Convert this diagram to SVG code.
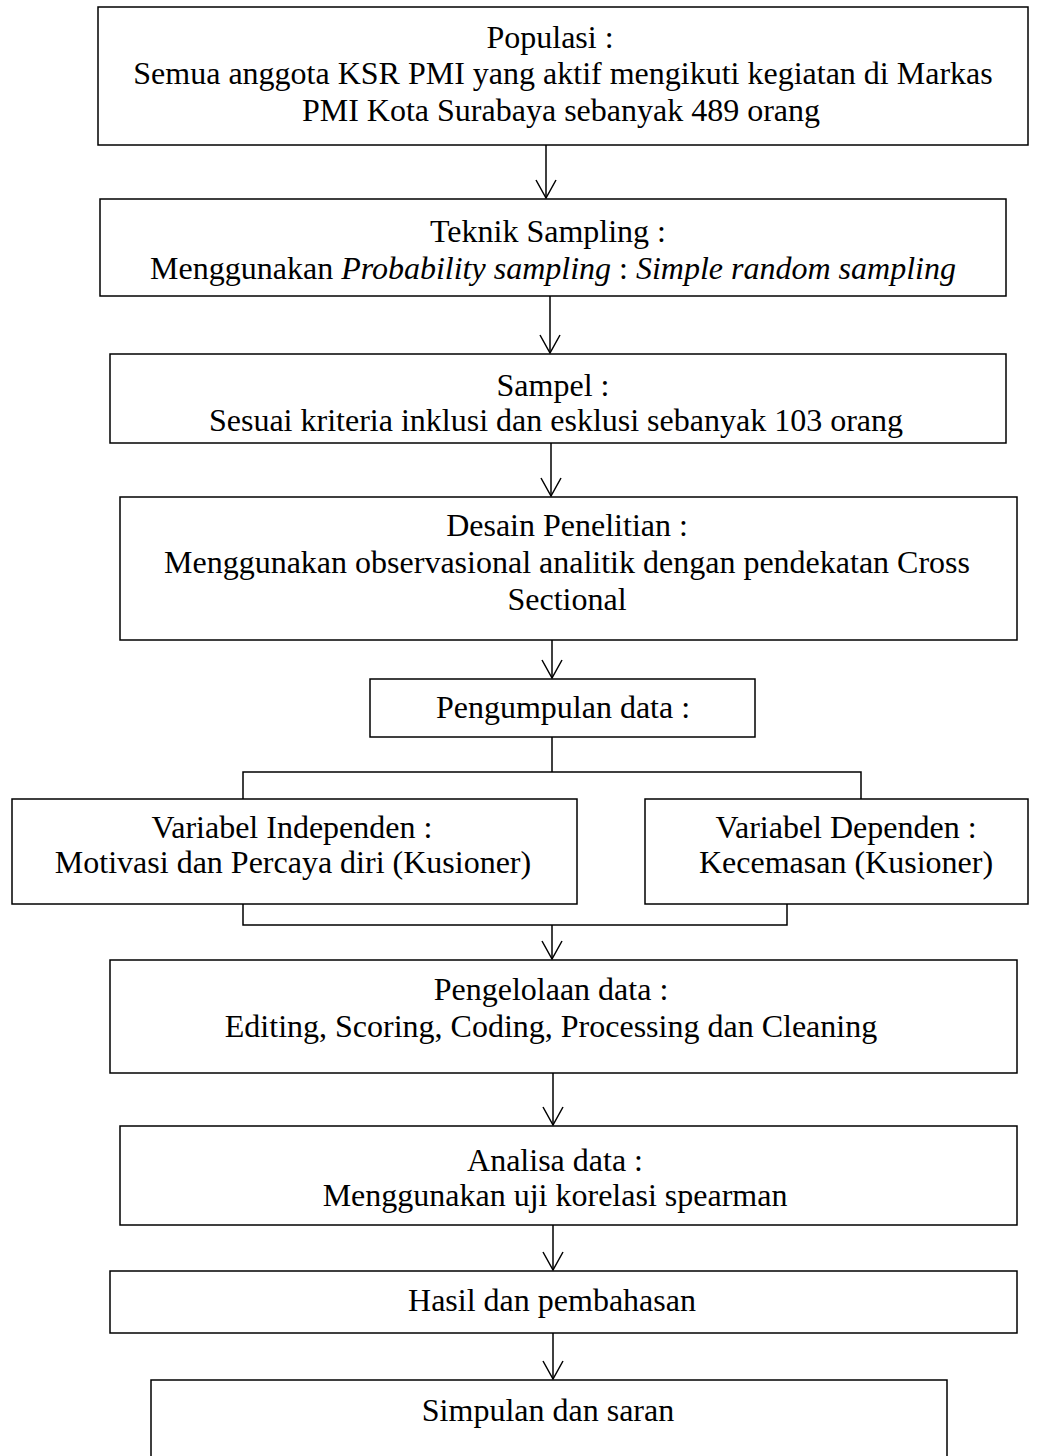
<svg xmlns="http://www.w3.org/2000/svg" width="1042" height="1456" viewBox="0 0 1042 1456">
<defs>
<style>
rect.box{fill:#fff;stroke:#000;stroke-width:1.5}
text{font-family:"Liberation Serif","Times New Roman",serif;font-size:32px;fill:#000;text-anchor:middle}
.conn line,.conn polyline{stroke:#000;stroke-width:1.5;fill:none}
</style>
<marker id="ah" markerWidth="24" markerHeight="24" viewBox="-20 -12 24 24" refX="0" refY="0" orient="auto" markerUnits="userSpaceOnUse">
<polyline points="-18,-10 0,0 -18,10" fill="none" stroke="#000" stroke-width="1.5"/>
</marker>
</defs>
<rect width="1042" height="1456" fill="#fff"/>
<g class="conn">
<line x1="546" y1="145" x2="546" y2="198" marker-end="url(#ah)"/>
<line x1="550" y1="296" x2="550" y2="353" marker-end="url(#ah)"/>
<line x1="551" y1="443" x2="551" y2="496" marker-end="url(#ah)"/>
<line x1="552" y1="640" x2="552" y2="678" marker-end="url(#ah)"/>
<line x1="552" y1="737" x2="552" y2="772"/>
<polyline points="243,799 243,772 861,772 861,799"/>
<polyline points="243,904 243,925 787,925 787,904"/>
<line x1="552" y1="925" x2="552" y2="959" marker-end="url(#ah)"/>
<line x1="553" y1="1073" x2="553" y2="1125" marker-end="url(#ah)"/>
<line x1="553" y1="1225" x2="553" y2="1270" marker-end="url(#ah)"/>
<line x1="553" y1="1333" x2="553" y2="1379" marker-end="url(#ah)"/>
</g>
<g id="n1"><rect class="box" x="98" y="7" width="930" height="138"/>
<text x="550" y="48">Populasi :</text>
<text x="563" y="84">Semua anggota KSR PMI yang aktif mengikuti kegiatan di Markas</text>
<text x="561" y="121">PMI Kota Surabaya sebanyak 489 orang</text></g>
<g id="n2"><rect class="box" x="100" y="199" width="906" height="97"/>
<text x="548" y="242">Teknik Sampling :</text>
<text x="553" y="279">Menggunakan <tspan font-style="italic">Probability sampling</tspan> : <tspan font-style="italic">Simple random sampling</tspan></text></g>
<g id="n3"><rect class="box" x="110" y="354" width="896" height="89"/>
<text x="553" y="396">Sampel :</text>
<text x="556" y="431">Sesuai kriteria inklusi dan esklusi sebanyak 103 orang</text></g>
<g id="n4"><rect class="box" x="120" y="497" width="897" height="143"/>
<text x="567" y="536">Desain Penelitian :</text>
<text x="567" y="573">Menggunakan observasional analitik dengan pendekatan Cross</text>
<text x="567" y="610">Sectional</text></g>
<g id="n5"><rect class="box" x="370" y="679" width="385" height="58"/>
<text x="563" y="718">Pengumpulan data :</text></g>
<g id="n6"><rect class="box" x="12" y="799" width="565" height="105"/>
<text x="292" y="838">Variabel Independen :</text>
<text x="293" y="873">Motivasi dan Percaya diri (Kusioner)</text></g>
<g id="n7"><rect class="box" x="645" y="799" width="383" height="105"/>
<text x="846" y="838">Variabel Dependen :</text>
<text x="846" y="873">Kecemasan (Kusioner)</text></g>
<g id="n8"><rect class="box" x="110" y="960" width="907" height="113"/>
<text x="551" y="1000">Pengelolaan data :</text>
<text x="551" y="1037">Editing, Scoring, Coding, Processing dan Cleaning</text></g>
<g id="n9"><rect class="box" x="120" y="1126" width="897" height="99"/>
<text x="555" y="1171">Analisa data :</text>
<text x="555" y="1206">Menggunakan uji korelasi spearman</text></g>
<g id="n10"><rect class="box" x="110" y="1271" width="907" height="62"/>
<text x="552" y="1311">Hasil dan pembahasan</text></g>
<g id="n11"><rect class="box" x="151" y="1380" width="796" height="90"/>
<text x="548" y="1421">Simpulan dan saran</text></g>
</svg>
